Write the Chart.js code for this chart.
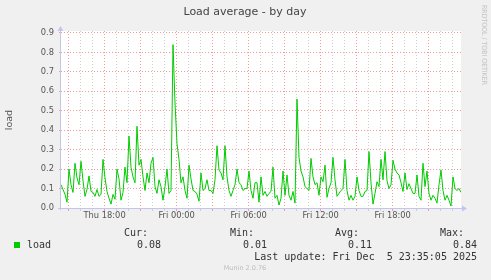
<!DOCTYPE html>
<html>
<head>
<meta charset="utf-8">
<title>Load average - by day</title>
<script src="https://cdn.jsdelivr.net/npm/chart.js@4.4.0/dist/chart.umd.min.js"></script>
<style>
	html, body { margin: 0; padding: 0; background: #f0f0f0; }
	#wrap { width: 491px; height: 280px; }
</style>
</head>
<body>
<div id="wrap"><canvas id="myChart" width="491" height="280"></canvas></div>
<script>
// load average, one value every 10 minutes
var loadValues = [
	0.12, 0.095, 0.07, 0.03, 0.2, 0.12, 0.08, 0.23, 0.155, 0.12, 0.24, 0.14, 0.06, 0.095, 0.165, 0.085, 0.08, 0.06,
	0.095, 0.06, 0.07, 0.25, 0.155, 0.085, 0.05, 0.02, 0.07, 0.045, 0.2, 0.15, 0.04, 0.08, 0.21, 0.13, 0.37,
	0.21, 0.16, 0.13, 0.42, 0.22, 0.25, 0.16, 0.09, 0.18, 0.13, 0.23, 0.26, 0.11, 0.075, 0.145, 0.11, 0.04, 0.11,
	0.2, 0.075, 0.09, 0.84, 0.54, 0.33, 0.25, 0.13, 0.16, 0.09, 0.05, 0.22, 0.15, 0.09, 0.085, 0.07, 0.035,
	0.18, 0.09, 0.1, 0.145, 0.09, 0.09, 0.075, 0.145, 0.32, 0.195, 0.18, 0.145, 0.32, 0.16, 0.09, 0.06, 0.09,
	0.12, 0.2, 0.13, 0.12, 0.09, 0.1, 0.1, 0.19, 0.09, 0.05, 0.13, 0.13, 0.03, 0.16, 0.065, 0.085, 0.06,
	0.075, 0.085, 0.21, 0.05, 0.065, 0.015, 0.05, 0.19, 0.065, 0.17, 0.065, 0.04, 0.085, 0.025, 0.56, 0.26, 0.19,
	0.16, 0.11, 0.1, 0.09, 0.255, 0.16, 0.12, 0.13, 0.065, 0.16, 0.135, 0.22, 0.055, 0.1, 0.13, 0.26, 0.145, 0.06, 0.075,
	0.09, 0.1, 0.25, 0.09, 0.04, 0.065, 0.04, 0.06, 0.16, 0.09, 0.06, 0.06, 0.085, 0.09, 0.29, 0.13, 0.02,
	0.075, 0.135, 0.11, 0.25, 0.145, 0.29, 0.14, 0.1, 0.12, 0.245, 0.2, 0.18, 0.17, 0.13, 0.085, 0.18,
	0.095, 0.125, 0.1, 0.075, 0.075, 0.17, 0.06, 0.04, 0.23, 0.11, 0.19, 0.075, 0.04, 0.065, 0.05, 0.025,
	0.12, 0.195, 0.09, 0.04, 0.065, 0.04, 0.01, 0.16, 0.1, 0.09, 0.1, 0.08
];
var startMinute = 862;   // minutes since Thu 00:00 (Thu 14:22)
var stepMinutes = 10;
var endMinute = 2862;    // Fri 23:42

var xTickLabels = ['Thu 18:00', 'Fri 00:00', 'Fri 06:00', 'Fri 12:00', 'Fri 18:00'];
var yTickLabels = ['0.0', '0.1', '0.2', '0.3', '0.4', '0.5', '0.6', '0.7', '0.8', '0.9'];

var legendHeads = ['Cur:', 'Min:', 'Avg:', 'Max:'];
var legendValues = ['0.08', '0.01', '0.11', '0.84'];
var lastUpdate = 'Last update: Fri Dec  5 23:35:05 2025';

var majorGrid = '#f59a9a';
var minorGrid = '#cfcfcf';
var axisColor = '#c4c4f2';

var points = new Array();
for (var i = 0; i < loadValues.length; i++) {
	points.push({ x: startMinute + i * stepMinutes, y: loadValues[i] });
}

// background, axes with arrows and all the rrdtool texts
var muninDeco = {
	id: 'muninDeco',
	beforeDraw: function(chart) {
		var c = chart.ctx, a = chart.chartArea;
		c.save();
		c.fillStyle = '#f0f0f0';
		c.fillRect(0, 0, chart.width, chart.height);
		c.fillStyle = '#ffffff';
		c.fillRect(a.left, a.top, a.right - a.left, a.bottom - a.top);
		c.restore();
	},
	beforeDatasetsDraw: function(chart) {
		var c = chart.ctx, a = chart.chartArea;
		c.save();
		c.strokeStyle = axisColor;
		c.fillStyle = axisColor;
		c.lineWidth = 1;
		c.beginPath();
		c.moveTo(a.left - 0.5, a.top - 2);
		c.lineTo(a.left - 0.5, a.bottom + 2);
		c.moveTo(a.left - 3, a.bottom + 0.5);
		c.lineTo(a.right + 3, a.bottom + 0.5);
		c.stroke();
		// arrow heads
		c.beginPath();
		c.moveTo(a.left - 3.5, a.top);
		c.lineTo(a.left + 2.5, a.top);
		c.lineTo(a.left - 0.5, a.top - 5);
		c.closePath();
		c.fill();
		c.beginPath();
		c.moveTo(a.right + 1, a.bottom - 2.5);
		c.lineTo(a.right + 1, a.bottom + 3.5);
		c.lineTo(a.right + 6, a.bottom + 0.5);
		c.closePath();
		c.fill();
		c.restore();
	},
	afterDraw: function(chart) {
		var c = chart.ctx;
		c.save();

		c.fillStyle = '#444444';
		c.font = '11px "DejaVu Sans"';
		c.textAlign = 'center';
		c.textBaseline = 'middle';
		c.fillText('Load average - by day', 245, 12);

		// y axis title
		c.save();
		c.translate(9.5, 120);
		c.rotate(-Math.PI / 2);
		c.fillStyle = '#555555';
		c.font = '9.5px "DejaVu Sans"';
		c.fillText('load', 0, 0);
		c.restore();

		// watermark on the right
		c.save();
		c.translate(484, 5);
		c.rotate(Math.PI / 2);
		c.fillStyle = '#c4c4c4';
		c.font = '7px "DejaVu Sans"';
		c.textAlign = 'left';
		c.fillText('RRDTOOL / TOBI OETIKER', 0, 0, 80);
		c.restore();

		// legend
		c.fillStyle = '#00cc00';
		c.fillRect(14, 242, 6, 6);

		c.fillStyle = '#333333';
		c.font = '10px "DejaVu Sans Mono"';
		c.textAlign = 'left';
		c.fillText('load', 27, 245);

		var rights = [148, 254, 359, 464];
		c.textAlign = 'right';
		for (var i = 0; i < legendHeads.length; i++) {
			c.fillText(legendHeads[i], rights[i], 233);
			c.fillText(legendValues[i], rights[i] + 13, 245);
		}
		c.fillText(lastUpdate, 477, 257);

		c.fillStyle = '#bdbdbd';
		c.font = '6.5px "DejaVu Sans"';
		c.textAlign = 'center';
		c.fillText('Munin 2.0.76', 245, 268);

		c.restore();
	}
};

var ctx = document.getElementById('myChart').getContext('2d');

var myChart = new Chart(ctx, {
	type: 'line',
	data: {
		datasets: [{
			label: 'load',
			data: points,
			borderColor: '#00cc00',
			borderWidth: 1,
			pointRadius: 0,
			tension: 0,
			fill: false
		}]
	},
	options: {
		responsive: false,
		animation: false,
		layout: {
			padding: { left: 0, right: 30, top: 31, bottom: 52 }
		},
		plugins: {
			legend: { display: false },
			title: { display: false },
			tooltip: { enabled: false }
		},
		scales: {
			x: {
				type: 'linear',
				min: startMinute,
				max: endMinute,
				afterBuildTicks: function(scale) {
					var ticks = [];
					for (var m = 900; m <= endMinute; m += 60) {
						ticks.push({ value: m });
					}
					scale.ticks = ticks;
				},
				afterFit: function(scale) {
					scale.height = 20;
				},
				grid: {
					color: function(context) {
						return context.tick && context.tick.value % 180 === 0 ? majorGrid : minorGrid;
					},
					lineWidth: 1,
					drawTicks: true,
					tickLength: 3
				},
				border: { display: false, dash: [1, 2] },
				ticks: {
					autoSkip: false,
					maxRotation: 0,
					minRotation: 0,
					padding: 0,
					color: '#555555',
					font: { family: 'DejaVu Sans', size: 8.3 },
					callback: function(value) {
						if ((value - 1080) % 360 === 0) {
							return xTickLabels[(value - 1080) / 360];
						}
						return '';
					}
				}
			},
			y: {
				type: 'linear',
				min: 0,
				max: 0.91,
				afterBuildTicks: function(scale) {
					var ticks = [];
					for (var i = 0; i < yTickLabels.length * 2 - 1; i++) {
						ticks.push({ value: i * 0.05 });
					}
					scale.ticks = ticks;
				},
				afterFit: function(scale) {
					scale.width = 61;
				},
				grid: {
					color: function(context) {
						return context.index % 2 === 0 ? majorGrid : minorGrid;
					},
					lineWidth: 1,
					drawTicks: true,
					tickLength: 2
				},
				border: { display: false, dash: [1, 2] },
				ticks: {
					padding: 5,
					color: '#555555',
					font: { family: 'DejaVu Sans', size: 8.3 },
					callback: function(value, index) {
						return index % 2 === 0 ? yTickLabels[index / 2] : '';
					}
				}
			}
		}
	},
	plugins: [muninDeco]
});
</script>
</body>
</html>
